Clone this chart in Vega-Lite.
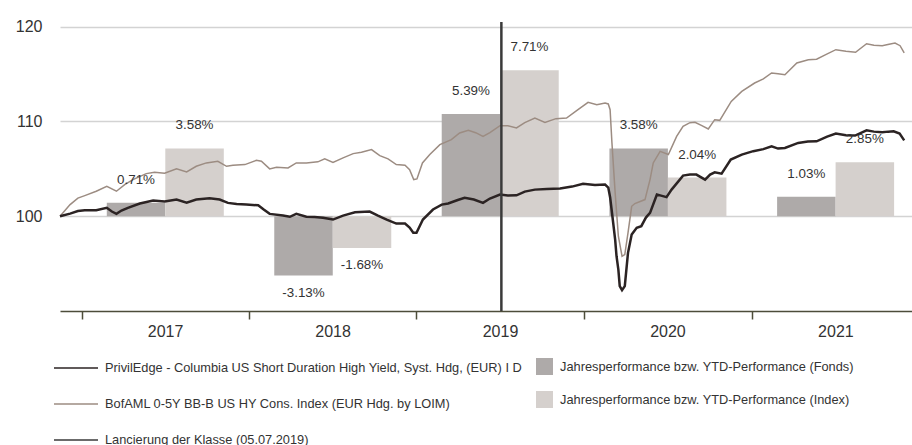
{
  "$schema": "https://vega.github.io/schema/vega-lite/v6.json",
  "width": 852,
  "height": 289,
  "autosize": {"type": "none"},
  "padding": {"left": 60, "top": 22, "right": 0, "bottom": 134},
  "background": "white",
  "config": {
    "font": "Liberation Sans, Arial, sans-serif",
    "view": {"stroke": null},
    "locale": {"number": {"decimal": ".", "thousands": ",", "grouping": [3], "currency": ["", ""], "minus": "-"}}
  },
  "datasets": {
    "bars": [
      {"yr": "2017-01-01", "b": "F", "p": 0.0071},
      {"yr": "2017-01-01", "b": "I", "p": 0.0358},
      {"yr": "2018-01-01", "b": "F", "p": -0.0313},
      {"yr": "2018-01-01", "b": "I", "p": -0.0168},
      {"yr": "2019-01-01", "b": "F", "p": 0.0539},
      {"yr": "2019-01-01", "b": "I", "p": 0.0771},
      {"yr": "2020-01-01", "b": "F", "p": 0.0358},
      {"yr": "2020-01-01", "b": "I", "p": 0.0204},
      {"yr": "2021-01-01", "b": "F", "p": 0.0103},
      {"yr": "2021-01-01", "b": "I", "p": 0.0285}
    ],
    "launch": [{"d": "2019-07-05", "s": "L"}],
    "lines": [
      {"d":"2016-11-15","s":"I","v":100.00},{"d":"2016-12-07","s":"I","v":101.23},{"d":"2016-12-24","s":"I","v":101.92},{"d":"2017-01-08","s":"I","v":102.18},{"d":"2017-02-02","s":"I","v":102.64},{"d":"2017-02-25","s":"I","v":103.16},{"d":"2017-03-18","s":"I","v":102.64},{"d":"2017-04-05","s":"I","v":103.34},{"d":"2017-04-23","s":"I","v":103.87},{"d":"2017-05-22","s":"I","v":104.50},{"d":"2017-06-09","s":"I","v":104.64},{"d":"2017-07-01","s":"I","v":104.55},{"d":"2017-07-27","s":"I","v":105.00},{"d":"2017-08-18","s":"I","v":104.68},{"d":"2017-09-08","s":"I","v":105.27},{"d":"2017-09-30","s":"I","v":105.63},{"d":"2017-10-25","s":"I","v":105.80},{"d":"2017-11-13","s":"I","v":105.27},{"d":"2017-11-27","s":"I","v":105.38},{"d":"2017-12-23","s":"I","v":105.45},{"d":"2018-01-17","s":"I","v":105.90},{"d":"2018-01-28","s":"I","v":105.80},{"d":"2018-02-15","s":"I","v":105.00},{"d":"2018-03-02","s":"I","v":105.17},{"d":"2018-03-27","s":"I","v":105.10},{"d":"2018-04-14","s":"I","v":105.63},{"d":"2018-05-06","s":"I","v":105.63},{"d":"2018-05-31","s":"I","v":105.74},{"d":"2018-06-15","s":"I","v":106.05},{"d":"2018-07-03","s":"I","v":105.69},{"d":"2018-07-25","s":"I","v":106.16},{"d":"2018-08-16","s":"I","v":106.61},{"d":"2018-09-03","s":"I","v":106.75},{"d":"2018-09-25","s":"I","v":107.03},{"d":"2018-10-13","s":"I","v":106.40},{"d":"2018-10-31","s":"I","v":106.05},{"d":"2018-11-18","s":"I","v":105.45},{"d":"2018-12-07","s":"I","v":105.38},{"d":"2018-12-17","s":"I","v":104.92},{"d":"2018-12-26","s":"I","v":103.87},{"d":"2019-01-02","s":"I","v":103.94},{"d":"2019-01-14","s":"I","v":105.63},{"d":"2019-01-30","s":"I","v":106.51},{"d":"2019-02-21","s":"I","v":107.56},{"d":"2019-03-18","s":"I","v":108.09},{"d":"2019-04-05","s":"I","v":108.79},{"d":"2019-04-24","s":"I","v":109.07},{"d":"2019-05-10","s":"I","v":108.82},{"d":"2019-05-26","s":"I","v":108.43},{"d":"2019-06-10","s":"I","v":108.82},{"d":"2019-07-02","s":"I","v":109.55},{"d":"2019-07-19","s":"I","v":109.56},{"d":"2019-08-07","s":"I","v":109.32},{"d":"2019-08-25","s":"I","v":109.88},{"d":"2019-09-16","s":"I","v":110.37},{"d":"2019-10-08","s":"I","v":109.91},{"d":"2019-11-01","s":"I","v":110.30},{"d":"2019-11-24","s":"I","v":110.37},{"d":"2019-12-19","s":"I","v":111.25},{"d":"2020-01-10","s":"I","v":112.02},{"d":"2020-01-29","s":"I","v":111.78},{"d":"2020-02-16","s":"I","v":111.96},{"d":"2020-02-23","s":"I","v":111.85},{"d":"2020-02-27","s":"I","v":111.25},{"d":"2020-03-02","s":"I","v":107.74},{"d":"2020-03-09","s":"I","v":102.47},{"d":"2020-03-16","s":"I","v":97.89},{"d":"2020-03-24","s":"I","v":95.78},{"d":"2020-03-30","s":"I","v":95.96},{"d":"2020-04-06","s":"I","v":98.25},{"d":"2020-04-14","s":"I","v":101.05},{"d":"2020-04-21","s":"I","v":101.34},{"d":"2020-05-13","s":"I","v":101.76},{"d":"2020-05-24","s":"I","v":103.87},{"d":"2020-05-31","s":"I","v":105.63},{"d":"2020-06-15","s":"I","v":106.85},{"d":"2020-07-03","s":"I","v":106.51},{"d":"2020-07-21","s":"I","v":108.43},{"d":"2020-08-04","s":"I","v":109.49},{"d":"2020-08-19","s":"I","v":109.88},{"d":"2020-08-30","s":"I","v":109.91},{"d":"2020-09-14","s":"I","v":109.56},{"d":"2020-09-28","s":"I","v":109.21},{"d":"2020-10-12","s":"I","v":110.19},{"d":"2020-10-23","s":"I","v":110.12},{"d":"2020-11-17","s":"I","v":112.12},{"d":"2020-12-10","s":"I","v":113.18},{"d":"2021-01-07","s":"I","v":114.06},{"d":"2021-01-26","s":"I","v":114.49},{"d":"2021-02-13","s":"I","v":115.12},{"d":"2021-02-27","s":"I","v":115.05},{"d":"2021-03-14","s":"I","v":114.94},{"d":"2021-04-09","s":"I","v":116.17},{"d":"2021-05-04","s":"I","v":116.52},{"d":"2021-05-22","s":"I","v":116.57},{"d":"2021-06-11","s":"I","v":117.05},{"d":"2021-07-03","s":"I","v":117.58},{"d":"2021-07-25","s":"I","v":117.42},{"d":"2021-08-15","s":"I","v":117.31},{"d":"2021-09-08","s":"I","v":118.21},{"d":"2021-09-24","s":"I","v":118.05},{"d":"2021-10-12","s":"I","v":118.00},{"d":"2021-10-27","s":"I","v":118.16},{"d":"2021-11-09","s":"I","v":118.28},{"d":"2021-11-20","s":"I","v":118.00},{"d":"2021-11-29","s":"I","v":117.23},
      {"d":"2016-11-15","s":"F","v":100.00},{"d":"2016-12-07","s":"F","v":100.28},{"d":"2016-12-24","s":"F","v":100.55},{"d":"2017-01-08","s":"F","v":100.63},{"d":"2017-02-02","s":"F","v":100.63},{"d":"2017-02-25","s":"F","v":100.89},{"d":"2017-03-08","s":"F","v":100.50},{"d":"2017-03-18","s":"F","v":100.25},{"d":"2017-03-29","s":"F","v":100.60},{"d":"2017-04-12","s":"F","v":100.89},{"d":"2017-05-08","s":"F","v":101.34},{"d":"2017-06-06","s":"F","v":101.66},{"d":"2017-07-01","s":"F","v":101.55},{"d":"2017-07-27","s":"F","v":101.76},{"d":"2017-08-18","s":"F","v":101.44},{"d":"2017-09-08","s":"F","v":101.76},{"d":"2017-10-07","s":"F","v":101.90},{"d":"2017-10-29","s":"F","v":101.76},{"d":"2017-11-16","s":"F","v":101.41},{"d":"2017-12-05","s":"F","v":101.29},{"d":"2017-12-26","s":"F","v":101.23},{"d":"2018-01-21","s":"F","v":101.16},{"d":"2018-02-02","s":"F","v":100.71},{"d":"2018-02-15","s":"F","v":100.25},{"d":"2018-03-16","s":"F","v":100.07},{"d":"2018-03-31","s":"F","v":99.94},{"d":"2018-04-14","s":"F","v":100.25},{"d":"2018-05-06","s":"F","v":99.94},{"d":"2018-05-24","s":"F","v":99.92},{"d":"2018-06-11","s":"F","v":99.83},{"d":"2018-07-03","s":"F","v":99.65},{"d":"2018-07-25","s":"F","v":100.07},{"d":"2018-08-20","s":"F","v":100.42},{"d":"2018-09-21","s":"F","v":100.50},{"d":"2018-10-09","s":"F","v":100.07},{"d":"2018-10-28","s":"F","v":99.65},{"d":"2018-11-18","s":"F","v":99.23},{"d":"2018-12-07","s":"F","v":99.23},{"d":"2018-12-17","s":"F","v":98.81},{"d":"2018-12-25","s":"F","v":98.25},{"d":"2019-01-01","s":"F","v":98.25},{"d":"2019-01-15","s":"F","v":99.65},{"d":"2019-02-06","s":"F","v":100.71},{"d":"2019-02-25","s":"F","v":101.23},{"d":"2019-03-11","s":"F","v":101.34},{"d":"2019-04-01","s":"F","v":101.71},{"d":"2019-04-16","s":"F","v":101.94},{"d":"2019-05-06","s":"F","v":101.76},{"d":"2019-05-26","s":"F","v":101.41},{"d":"2019-06-10","s":"F","v":101.87},{"d":"2019-07-02","s":"F","v":102.29},{"d":"2019-07-19","s":"F","v":102.18},{"d":"2019-08-07","s":"F","v":102.21},{"d":"2019-08-25","s":"F","v":102.60},{"d":"2019-09-16","s":"F","v":102.81},{"d":"2019-10-12","s":"F","v":102.87},{"d":"2019-11-10","s":"F","v":102.92},{"d":"2019-12-06","s":"F","v":103.13},{"d":"2019-12-30","s":"F","v":103.42},{"d":"2020-01-25","s":"F","v":103.29},{"d":"2020-02-16","s":"F","v":103.34},{"d":"2020-02-23","s":"F","v":103.03},{"d":"2020-02-27","s":"F","v":102.00},{"d":"2020-03-03","s":"F","v":100.00},{"d":"2020-03-09","s":"F","v":97.54},{"d":"2020-03-12","s":"F","v":95.78},{"d":"2020-03-16","s":"F","v":94.37},{"d":"2020-03-19","s":"F","v":92.62},{"d":"2020-03-24","s":"F","v":92.20},{"d":"2020-03-30","s":"F","v":92.62},{"d":"2020-04-06","s":"F","v":96.14},{"d":"2020-04-14","s":"F","v":98.07},{"d":"2020-04-25","s":"F","v":98.78},{"d":"2020-05-05","s":"F","v":98.95},{"d":"2020-05-15","s":"F","v":99.86},{"d":"2020-05-24","s":"F","v":100.36},{"d":"2020-06-08","s":"F","v":102.29},{"d":"2020-06-17","s":"F","v":102.18},{"d":"2020-06-29","s":"F","v":102.02},{"d":"2020-07-10","s":"F","v":102.81},{"d":"2020-08-04","s":"F","v":104.29},{"d":"2020-08-19","s":"F","v":104.40},{"d":"2020-09-02","s":"F","v":104.40},{"d":"2020-09-21","s":"F","v":103.87},{"d":"2020-10-02","s":"F","v":104.40},{"d":"2020-10-12","s":"F","v":104.64},{"d":"2020-10-27","s":"F","v":104.50},{"d":"2020-11-16","s":"F","v":105.98},{"d":"2020-12-10","s":"F","v":106.51},{"d":"2021-01-04","s":"F","v":106.87},{"d":"2021-01-26","s":"F","v":107.08},{"d":"2021-02-13","s":"F","v":107.38},{"d":"2021-02-27","s":"F","v":107.14},{"d":"2021-03-14","s":"F","v":107.21},{"d":"2021-04-12","s":"F","v":107.74},{"d":"2021-05-03","s":"F","v":107.88},{"d":"2021-05-22","s":"F","v":107.91},{"d":"2021-06-14","s":"F","v":108.40},{"d":"2021-07-03","s":"F","v":108.72},{"d":"2021-07-25","s":"F","v":108.56},{"d":"2021-08-14","s":"F","v":108.51},{"d":"2021-09-08","s":"F","v":109.07},{"d":"2021-09-24","s":"F","v":108.93},{"d":"2021-10-12","s":"F","v":108.86},{"d":"2021-10-25","s":"F","v":108.93},{"d":"2021-11-06","s":"F","v":108.96},{"d":"2021-11-19","s":"F","v":108.72},{"d":"2021-11-29","s":"F","v":108.01}
    ]
  },
  "resolve": {"scale": {"y": "independent"}},
  "layer": [
    {
      "data": {"name": "bars"},
      "transform": [{"filter": "datum.b === 'F'"}],
      "mark": {"type": "bar", "width": 58.5, "xOffset": -29.25},
      "encoding": {
        "x": {"field": "yr", "timeUnit": "utcyear", "type": "temporal", "bandPosition": 0.5},
        "y": {"field": "p", "type": "quantitative", "scale": {"domain": [-0.05, 0.1025], "nice": false}, "axis": null},
        "fill": {
          "field": "b", "type": "nominal",
          "scale": {"domain": ["F", "I"], "range": ["#aeaaa9", "#d5d0cd"]},
          "legend": {
            "orient": "none", "legendX": 476, "legendY": 336, "title": null, "symbolType": "square", "symbolSize": 289, "symbolStrokeWidth": 0,
            "labelFontSize": 12.8, "labelColor": "#333333", "labelOffset": 7, "labelLimit": 700, "rowPadding": 16,
            "labelExpr": "datum.value === 'F' ? 'Jahresperformance bzw. YTD-Performance (Fonds)' : 'Jahresperformance bzw. YTD-Performance (Index)'"
          }
        }
      }
    },
    {
      "data": {"name": "bars"},
      "transform": [{"filter": "datum.b === 'I'"}],
      "mark": {"type": "bar", "width": 58.5, "xOffset": 29.25},
      "encoding": {
        "x": {"field": "yr", "timeUnit": "utcyear", "type": "temporal", "bandPosition": 0.5},
        "y": {"field": "p", "type": "quantitative", "scale": {"domain": [-0.05, 0.1025], "nice": false}, "axis": null},
        "fill": {"field": "b", "type": "nominal"}
      }
    },
    {
      "data": {"name": "lines"},
      "mark": {"type": "line", "interpolate": "linear"},
      "encoding": {
        "x": {
          "field": "d", "type": "temporal",
          "scale": {"type": "utc", "domain": [{"year": 2016, "month": 11, "date": 15, "utc": true}, {"year": 2021, "month": 12, "date": 16, "utc": true}]},
          "axis": {
            "title": null, "values": [{"year": 2017, "utc": true}, {"year": 2018, "utc": true}, {"year": 2019, "utc": true}, {"year": 2020, "utc": true}, {"year": 2021, "utc": true}],
            "format": "%Y", "labelOffset": 83.5, "labelAlign": "center", "labelFlush": false, "labelOverlap": false, "labelBound": false,
            "tickSize": 8, "tickWidth": 1.5, "tickColor": "#4d4d3a", "domainColor": "#4d4d3a", "domainWidth": 1.5,
            "grid": false, "labelFontSize": 16, "labelColor": "#333333", "labelPadding": 4
          }
        },
        "y": {
          "field": "v", "type": "quantitative",
          "scale": {"domain": [90, 120.5], "nice": false, "zero": false},
          "axis": {"orient": "left", "title": null, "values": [100, 110, 120], "grid": true, "gridColor": "#d3d3d3", "gridWidth": 1.5, "domain": false, "ticks": false, "labelFontSize": 16, "labelColor": "#333333", "labelPadding": 18}
        },
        "stroke": {
          "field": "s", "type": "nominal",
          "scale": {"domain": ["F", "I", "L"], "range": ["#2b2323", "#9c8c82", "#3a3a3a"]},
          "legend": {
            "orient": "none", "legendX": -7, "legendY": 323, "title": null, "symbolType": "stroke", "symbolSize": 1936,
            "labelFontSize": 12.8, "labelColor": "#333333", "labelOffset": 6, "labelLimit": 700, "rowPadding": 6,
            "labelExpr": "datum.value === 'F' ? 'PrivilEdge - Columbia US Short Duration High Yield, Syst. Hdg, (EUR) I D' : datum.value === 'I' ? 'BofAML 0-5Y BB-B US HY Cons. Index (EUR Hdg. by LOIM)' : 'Lancierung der Klasse (05.07.2019)'"
          }
        },
        "strokeWidth": {
          "field": "s", "type": "nominal",
          "scale": {"type": "ordinal", "domain": ["F", "I", "L"], "range": [2.5, 1.5, 1.3]}
        }
      }
    },
    {
      "data": {"name": "launch"},
      "mark": {"type": "rule"},
      "encoding": {
        "x": {"field": "d", "type": "temporal"},
        "stroke": {"field": "s", "type": "nominal"},
        "strokeWidth": {"field": "s", "type": "nominal"}
      }
    },
    {
      "data": {"name": "bars"},
      "transform": [{"filter": "datum.b === 'F' && datum.p >= 0"}],
      "mark": {"type": "text", "xOffset": -29.25, "dy": -23, "fontSize": 13.4, "color": "#333333", "baseline": "middle"},
      "encoding": {
        "x": {"field": "yr", "timeUnit": "utcyear", "type": "temporal", "bandPosition": 0.5},
        "y": {"field": "p", "type": "quantitative", "scale": {"domain": [-0.05, 0.1025], "nice": false}, "axis": null},
        "text": {"field": "p", "type": "quantitative", "format": ".2%"}
      }
    },
    {
      "data": {"name": "bars"},
      "transform": [{"filter": "datum.b === 'I' && datum.p >= 0"}],
      "mark": {"type": "text", "xOffset": 29.25, "dy": -23, "fontSize": 13.4, "color": "#333333", "baseline": "middle"},
      "encoding": {
        "x": {"field": "yr", "timeUnit": "utcyear", "type": "temporal", "bandPosition": 0.5},
        "y": {"field": "p", "type": "quantitative", "scale": {"domain": [-0.05, 0.1025], "nice": false}, "axis": null},
        "text": {"field": "p", "type": "quantitative", "format": ".2%"}
      }
    },
    {
      "data": {"name": "bars"},
      "transform": [{"filter": "datum.b === 'F' && datum.p < 0"}],
      "mark": {"type": "text", "xOffset": -29.25, "dy": 17, "fontSize": 13.4, "color": "#333333", "baseline": "middle"},
      "encoding": {
        "x": {"field": "yr", "timeUnit": "utcyear", "type": "temporal", "bandPosition": 0.5},
        "y": {"field": "p", "type": "quantitative", "scale": {"domain": [-0.05, 0.1025], "nice": false}, "axis": null},
        "text": {"field": "p", "type": "quantitative", "format": ".2%"}
      }
    },
    {
      "data": {"name": "bars"},
      "transform": [{"filter": "datum.b === 'I' && datum.p < 0"}],
      "mark": {"type": "text", "xOffset": 29.25, "dy": 17, "fontSize": 13.4, "color": "#333333", "baseline": "middle"},
      "encoding": {
        "x": {"field": "yr", "timeUnit": "utcyear", "type": "temporal", "bandPosition": 0.5},
        "y": {"field": "p", "type": "quantitative", "scale": {"domain": [-0.05, 0.1025], "nice": false}, "axis": null},
        "text": {"field": "p", "type": "quantitative", "format": ".2%"}
      }
    }
  ]
}
